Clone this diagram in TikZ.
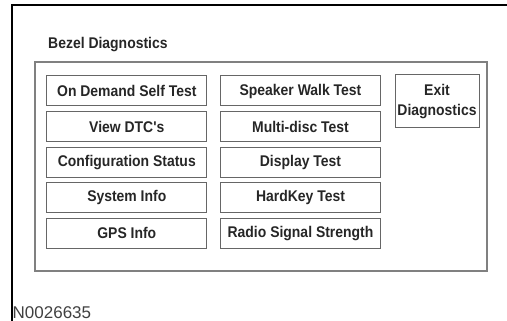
\documentclass[tikz,border=0pt]{standalone}
\usepackage{fontspec}
\setmainfont{Liberation Sans}
\newfontfamily\narrowfont[FakeStretch=0.9]{Liberation Sans}
\tikzset{
  btn/.style={draw=black!60, line width=1pt, minimum width=160pt, minimum height=30pt,
    inner sep=0pt, text=black!85, font=\narrowfont\bfseries\fontsize{15.5}{20}\selectfont},
  caption/.style={inner sep=0pt, anchor=west},
}
\begin{document}
\begin{tikzpicture}[x=1pt,y=-1pt]
  \useasboundingbox (0,0) rectangle (507,321);
  % frame of the figure
  \draw[line width=2pt] (12,321) -- (12,5) -- (507,5);
  \node[caption, text=black!85, font=\narrowfont\bfseries\fontsize{15.5}{20}\selectfont] (title) at (48,45) {Bezel Diagnostics};
  \draw[draw=black!50, line width=1.3pt] (35,62) rectangle (487,271);
  \foreach \t [count=\i] in {On Demand Self Test, View DTC's, Configuration Status, System Info, GPS Info}{
    \node[btn] (left\i) at (126.8,{91+35.6*(\i-1)}) {\t};
  }
  \foreach \t [count=\i] in {Speaker Walk Test, Multi-disc Test, Display Test, HardKey Test, Radio Signal Strength}{
    \node[btn] (mid\i) at (300.5,{91+35.6*(\i-1)}) {\t};
  }
  \node[btn, minimum width=84pt, minimum height=53pt, align=center] (exit) at (437,101.5) {Exit\\Diagnostics};
  \node[caption, text=black!75, font=\fontsize{17}{20}\selectfont] (fig) at (12.5,312.5) {N0026635};
\end{tikzpicture}
\end{document}
